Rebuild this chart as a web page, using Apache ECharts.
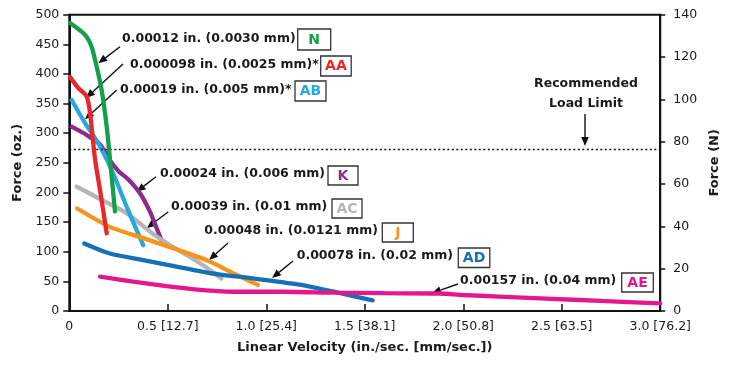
<!DOCTYPE html>
<html><head><meta charset="utf-8">
<script src="https://cdn.jsdelivr.net/npm/echarts@6/dist/echarts.min.js"></script>
<style>html,body{margin:0;padding:0;background:#fff}#c{width:729px;height:365px}</style>
</head><body><div id="c"></div>
<script>
// ---- data (x: in./sec, y: oz.) ----
const xTickLabels = {0:'0',0.5:'0.5 [12.7]',1:'1.0 [25.4]',1.5:'1.5 [38.1]',2:'2.0 [50.8]',2.5:'2.5 [63.5]',3:'3.0 [76.2]'};
const loadLimit = 273;
const seriesN  = [[0.004,486],[0.08,466],[0.113,446],[0.139,412],[0.164,373],[0.19,311],[0.206,258],[0.232,168]];
const seriesAA = [[0.004,395],[0.046,376],[0.088,362],[0.105,335],[0.13,258],[0.156,204],[0.19,131]];
const seriesAB = [[0.012,356],[0.08,317],[0.147,283],[0.223,232],[0.291,176],[0.375,111]];
const seriesK  = [[0.012,311],[0.088,297],[0.156,281],[0.2,257],[0.25,236],[0.3,222],[0.358,199],[0.409,168],[0.443,140],[0.47,118]];
const seriesAC = [[0.037,210],[0.156,189],[0.291,165],[0.426,130],[0.527,108],[0.662,81],[0.772,55]];
const seriesJ  = [[0.04,173],[0.206,142],[0.375,123],[0.527,106],[0.696,86],[0.831,64],[0.957,44]];
const seriesAD = [[0.076,114],[0.206,97],[0.375,86],[0.544,75],[0.713,64],[0.932,55],[1.135,46],[1.24,40],[1.337,33],[1.54,18]];
const seriesAE = [[0.156,58],[0.324,49.5],[0.493,42],[0.662,35.5],[0.831,32.5],[1.084,32.5],[1.337,31],[1.6,30],[1.88,29.5],[2.0,27],[2.42,21],[2.7,17],[3.0,13]];

const curves = [
  {name:'K', data:seriesK, color:'#8b2c8e'},
  {name:'AC', data:seriesAC, color:'#b5b5b5'},
  {name:'AB', data:seriesAB, color:'#29a8e0'},
  {name:'J', data:seriesJ, color:'#f7941d'},
  {name:'AD', data:seriesAD, color:'#1670b7'},
  {name:'AE', data:seriesAE, color:'#e5178c'},
  {name:'AA', data:seriesAA, color:'#e8262b'},
  {name:'N', data:seriesN, color:'#12a04c'}
];

// annotation layout (pixels)
const notes = [
  {t:'0.00012 in. (0.0030 mm)', tag:'N', c:'#12a04c', tx:122, ty:40, bx:297.7, by:29, bw:33, bh:21, a:[120,46.7,98.3,63.3]},
  {t:'0.000098 in. (0.0025 mm)*', tag:'AA', c:'#e8262b', tx:130, ty:66, bx:320.7, by:56, bw:30.5, bh:20, a:[123,64,86,98]},
  {t:'0.00019 in. (0.005 mm)*', tag:'AB', c:'#29a8e0', tx:120, ty:91, bx:295, by:81, bw:31, bh:20, a:[116.7,90,85,119.3]},
  {t:'0.00024 in. (0.006 mm)', tag:'K', c:'#8b2c8e', tx:160, ty:175, bx:328, by:166, bw:30, bh:19, a:[156,176.7,136.7,191.7]},
  {t:'0.00039 in. (0.01 mm)', tag:'AC', c:'#b5b5b5', tx:171, ty:208.5, bx:332, by:199, bw:30, bh:19, a:[168.3,211.7,146.7,228.3]},
  {t:'0.00048 in. (0.0121 mm)', tag:'J', c:'#f7941d', tx:204.3, ty:232.7, bx:382.3, by:223, bw:31, bh:19, a:[228,243,209,260]},
  {t:'0.00078 in. (0.02 mm)', tag:'AD', c:'#1670b7', tx:296.7, ty:257.3, bx:458.3, by:248, bw:31.5, bh:19.5, a:[293,261,272,278]},
  {t:'0.00157 in. (0.04 mm)', tag:'AE', c:'#e5178c', tx:460, ty:282.3, bx:621.7, by:273, bw:31.6, bh:19, a:[458,284,432,293]}
];

function arrow(x1,y1,x2,y2){
  const dx=x2-x1, dy=y2-y1, L=Math.hypot(dx,dy), ux=dx/L, uy=dy/L;
  const hl=9, hw=3.8;
  const bx=x2-ux*hl, by=y2-uy*hl;
  return [
    {type:'line', shape:{x1:x1,y1:y1,x2:bx,y2:by}, style:{stroke:'#111',lineWidth:1.4}, silent:true},
    {type:'polygon', shape:{points:[[x2,y2],[bx-uy*hw,by+ux*hw],[bx+uy*hw,by-ux*hw]]}, style:{fill:'#111'}, silent:true}
  ];
}

const FONT = 'DejaVu Sans';
const graphics = [];
notes.forEach(n=>{
  graphics.push({type:'text', left:n.tx, top:n.ty-8, style:{text:n.t, fill:'#1a1a1a', font:'bold 12.5px "DejaVu Sans"'}, silent:true});
  graphics.push({type:'rect', shape:{x:n.bx,y:n.by,width:n.bw,height:n.bh}, style:{fill:'#fff',stroke:'#333',lineWidth:1.3}, silent:true});
  graphics.push({type:'text', x:n.bx+n.bw/2, y:n.by+n.bh/2+0.5, style:{text:n.tag, fill:n.c, font:'bold 14px "DejaVu Sans"', align:'center', verticalAlign:'middle'}, silent:true});
  arrow(...n.a).forEach(g=>graphics.push(g));
});
graphics.push({type:'text', x:586, y:84, style:{text:'Recommended', fill:'#1a1a1a', font:'bold 12.5px "DejaVu Sans"', align:'center', verticalAlign:'middle'}, silent:true});
graphics.push({type:'text', x:586, y:104, style:{text:'Load Limit', fill:'#1a1a1a', font:'bold 12.5px "DejaVu Sans"', align:'center', verticalAlign:'middle'}, silent:true});
arrow(585,114,585,146).forEach(g=>graphics.push(g));

const chart = echarts.init(document.getElementById('c'), null, {renderer:'canvas'});
const series = curves.map((c,i)=>({
  type:'line', name:c.name, data:c.data, yAxisIndex:0, smooth:0.25, showSymbol:false, silent:true,
  lineStyle:{color:c.color, width:4.3, cap:'round'}, z:2+i,
  markLine: i===0 ? {silent:true, symbol:['none','none'], label:{show:false},
    lineStyle:{color:'#111', type:[2,2.5], width:1.4}, data:[{yAxis:loadLimit}]} : undefined
}));
series.push({type:'line', yAxisIndex:1, data:[], silent:true});

chart.setOption({
  animation:false,
  textStyle:{fontFamily:FONT},
  grid:{left:69.3, right:67.5, top:14.7, bottom:54, show:true, borderColor:'#111', borderWidth:2},
  xAxis:{type:'value', min:0, max:3, interval:0.5,
    name:'Linear Velocity (in./sec. [mm/sec.])', nameLocation:'middle', nameGap:30,
    nameTextStyle:{fontFamily:FONT, fontWeight:'bold', fontSize:13, color:'#1a1a1a'},
    axisLine:{lineStyle:{color:'#111', width:2}},
    axisTick:{inside:true, length:7, lineStyle:{color:'#111', width:1.5}},
    splitLine:{show:false},
    axisLabel:{margin:9, fontSize:12.5, color:'#1a1a1a', fontFamily:FONT, formatter:v=>xTickLabels[v]!==undefined?xTickLabels[v]:''}},
  yAxis:[
    {type:'value', min:0, max:500, interval:50, position:'left',
     name:'Force (oz.)', nameLocation:'middle', nameGap:44, nameRotate:90,
     nameTextStyle:{fontFamily:FONT, fontWeight:'bold', fontSize:13, color:'#1a1a1a'},
     axisLine:{show:true, lineStyle:{color:'#111', width:2}},
     axisTick:{show:true, length:6, lineStyle:{color:'#111', width:1.5}},
     splitLine:{show:false},
     axisLabel:{margin:10, fontSize:12.5, color:'#1a1a1a', fontFamily:FONT}},
    {type:'value', min:0, max:140, interval:20, position:'right',
     name:'Force (N)', nameLocation:'middle', nameGap:35, nameRotate:90,
     nameTextStyle:{fontFamily:FONT, fontWeight:'bold', fontSize:13, color:'#1a1a1a'},
     axisLine:{show:true, lineStyle:{color:'#111', width:2}},
     axisTick:{show:true, length:5, lineStyle:{color:'#111', width:1.5}},
     splitLine:{show:false},
     axisLabel:{margin:13, fontSize:12.5, color:'#1a1a1a', fontFamily:FONT}}
  ],
  series:series,
  graphic:graphics
});
</script></body></html>
